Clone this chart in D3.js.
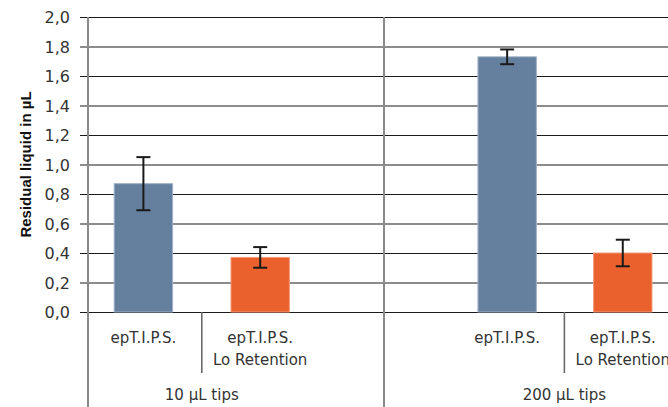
<!DOCTYPE html>
<html>
<head>
<meta charset="utf-8">
<script src="https://cdn.jsdelivr.net/npm/d3@7"></script>
<style>
  body { margin: 0; background: #fff; }
  svg { display: block; }
</style>
</head>
<body>
<svg id="chart"></svg>
<script>
// data
const groups = ["10 µL tips", "200 µL tips"];
const tipTypes = ["epT.I.P.S.", "epT.I.P.S.|Lo Retention"];
const means10 = [0.87, 0.37];
const errors10 = [0.18, 0.07];
const means200 = [1.73, 0.40];
const errors200 = [0.05, 0.09];
const yTicks = [0, 0.2, 0.4, 0.6, 0.8, 1.0, 1.2, 1.4, 1.6, 1.8, 2.0];

const colors = ["#657f9e", "#ea612e"];

const width = 668;
const height = 407;
const margin = { top: 17, left: 88, bottom: 95 };
const plotRight = 680; // chart continues past the cropped edge

const rows = [];
groups.forEach((g, gi) => {
  const means = gi === 0 ? means10 : means200;
  const errs = gi === 0 ? errors10 : errors200;
  tipTypes.forEach((t, ti) => rows.push({ group: g, type: t, ti, value: means[ti], err: errs[ti] }));
});

const svg = d3.select("#chart").attr("width", width).attr("height", height);

const y = d3.scaleLinear()
  .domain([0, 2])
  .range([height - margin.bottom, margin.top]);

const xGroup = d3.scaleBand()
  .domain(groups)
  .range([margin.left, plotRight]);

// inner scale: first group packed to the left, second to the right
const xInner = gi => d3.scaleBand()
  .domain(tipTypes)
  .range([gi === 0 ? -3 : 0, xGroup.bandwidth()])
  .paddingInner(0)
  .paddingOuter(0.28)
  .align(gi === 0 ? 0 : 1);

const xPos = d => xGroup(d.group) + xInner(groups.indexOf(d.group))(d.type);

// gridlines + ticks
const yAxis = d3.axisLeft(y)
  .tickValues(yTicks)
  .tickSize(-(width - margin.left + 8))
  .tickPadding(0)
  .tickFormat(d => d3.format(".1f")(d).replace(".", ","));

const ga = svg.append("g")
  .attr("transform", `translate(${margin.left - 8},0)`)
  .call(yAxis);
ga.select(".domain").remove();
ga.selectAll(".tick line").attr("stroke", "#1a1a1a").attr("stroke-width", 1.1)
  .attr("x1", 0);
ga.selectAll(".tick text")
  .attr("x", -10)
  .attr("dy", "0.36em")
  .style("font-family", "DejaVu Sans, sans-serif")
  .style("font-size", "16px")
  .style("fill", "#333");

// y axis title
svg.append("text")
  .attr("transform", `translate(31,${(margin.top + height - margin.bottom) / 2}) rotate(-90)`)
  .attr("text-anchor", "middle")
  .style("font-family", "Liberation Sans, Arial, sans-serif")
  .style("font-weight", "bold")
  .style("font-size", "15px")
  .style("fill", "#111")
  .text("Residual liquid in µL");

// bars
svg.selectAll("rect.bar")
  .data(rows)
  .enter()
  .append("rect")
  .attr("class", "bar")
  .attr("x", d => xPos(d) + xInner(0).bandwidth() * 0.25)
  .attr("width", xInner(0).bandwidth() * 0.5)
  .attr("y", d => y(d.value))
  .attr("height", d => y(0) - y(d.value))
  .attr("fill", d => colors[d.ti])
  .attr("stroke", d => d.ti === 0 ? "#9fb1c6" : "#f29a78")
  .attr("stroke-width", 1);

// error bars
const eb = svg.selectAll("g.err")
  .data(rows)
  .enter()
  .append("g")
  .attr("class", "err")
  .attr("stroke", "#1a1a1a")
  .attr("stroke-width", 2);
const cx = d => xPos(d) + xInner(0).bandwidth() / 2;
eb.append("line")
  .attr("x1", cx).attr("x2", cx)
  .attr("y1", d => y(d.value + d.err)).attr("y2", d => y(d.value - d.err));
[1, -1].forEach(s => {
  eb.append("line")
    .attr("x1", d => cx(d) - 7).attr("x2", d => cx(d) + 7)
    .attr("y1", d => y(d.value + s * d.err)).attr("y2", d => y(d.value + s * d.err));
});

// vertical axis lines and group separators
const axisCol = "#8a8a8a";
svg.append("line")
  .attr("x1", margin.left).attr("x2", margin.left)
  .attr("y1", margin.top).attr("y2", height)
  .attr("stroke", axisCol).attr("stroke-width", 2);
svg.append("line")
  .attr("x1", xGroup(groups[1])).attr("x2", xGroup(groups[1]))
  .attr("y1", margin.top).attr("y2", height)
  .attr("stroke", axisCol).attr("stroke-width", 2);

// inner separators (between tip types) and group labels centred on them
groups.forEach((g, gi) => {
  const sx = xGroup(g) + xInner(gi)(tipTypes[1]);
  svg.append("line")
    .attr("x1", sx).attr("x2", sx)
    .attr("y1", y(0)).attr("y2", y(0) + 61)
    .attr("stroke", "#6a6a6a").attr("stroke-width", 1.6);
  svg.append("text")
    .attr("x", sx)
    .attr("y", 400)
    .attr("text-anchor", "middle")
    .style("font-family", "DejaVu Sans, sans-serif")
    .style("font-size", "15px")
    .style("fill", "#333")
    .text(g);
});

// category labels
const lbl = svg.selectAll("text.cat")
  .data(rows)
  .enter()
  .append("text")
  .attr("class", "cat")
  .attr("text-anchor", "middle")
  .style("font-family", "DejaVu Sans, sans-serif")
  .style("font-size", "15px")
  .style("fill", "#333");
lbl.selectAll("tspan")
  .data(d => d.type.split("|").map(s => ({ s, x: cx(d) })))
  .enter()
  .append("tspan")
  .attr("x", d => d.x)
  .attr("y", (d, i) => 343 + i * 22)
  .text(d => d.s);
</script>
</body>
</html>
